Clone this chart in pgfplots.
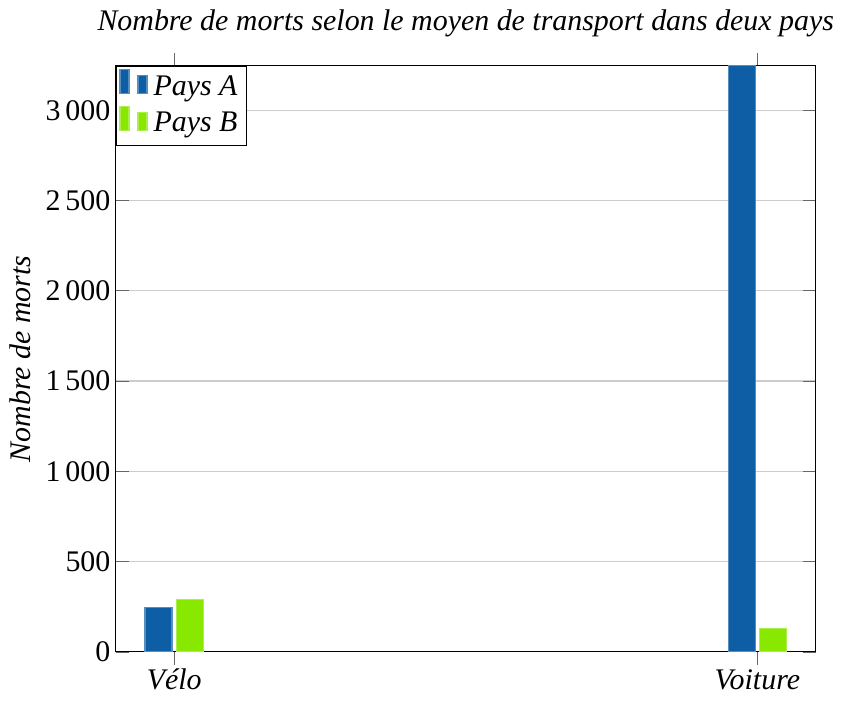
\documentclass[border=0pt]{standalone}
\usepackage{fontspec}
\setmainfont{Liberation Serif}
\usepackage{pgfplots}
\pgfplotsset{compat=1.18}
\definecolor{paysA}{RGB}{13,94,164}
\definecolor{paysB}{RGB}{136,232,0}
\begin{document}
\begin{tikzpicture}
\begin{axis}[
  scale only axis,
  width=234pt, height=196pt,
  ybar=1.5pt, bar width=9pt,
  ymin=0, ymax=3247,
  xmin=-0.1, xmax=1.1,
  xtick={0,1}, xticklabels={V\'elo, Voiture},
  xticklabel style={font=\itshape, yshift=2pt},
  x tick style={black!60}, xtick align=outside,
  ytick={0,500,1000,1500,2000,2500,3000},
  y tick style={black!60},
  yticklabel style={xshift=1.7pt},
  /pgf/number format/assume math mode=true,
  /pgf/number format/1000 sep={\,},
  ymajorgrids, grid style={black!20},
  title={\itshape Nombre de morts selon le moyen de transport dans deux pays},
  ylabel={\itshape Nombre de morts},
  ylabel style={yshift=-2pt},
  legend style={at={(0,1)}, anchor=north west, font=\itshape, inner sep=1pt, legend cell align=left},
]
\addplot[fill=paysA, draw=paysA!70!white] coordinates {(0,244) (1,3247)};
\addplot[fill=paysB, draw=paysB!70!white] coordinates {(0,292) (1,129)};
\legend{Pays A, Pays B}
\end{axis}
\end{tikzpicture}
\end{document}
